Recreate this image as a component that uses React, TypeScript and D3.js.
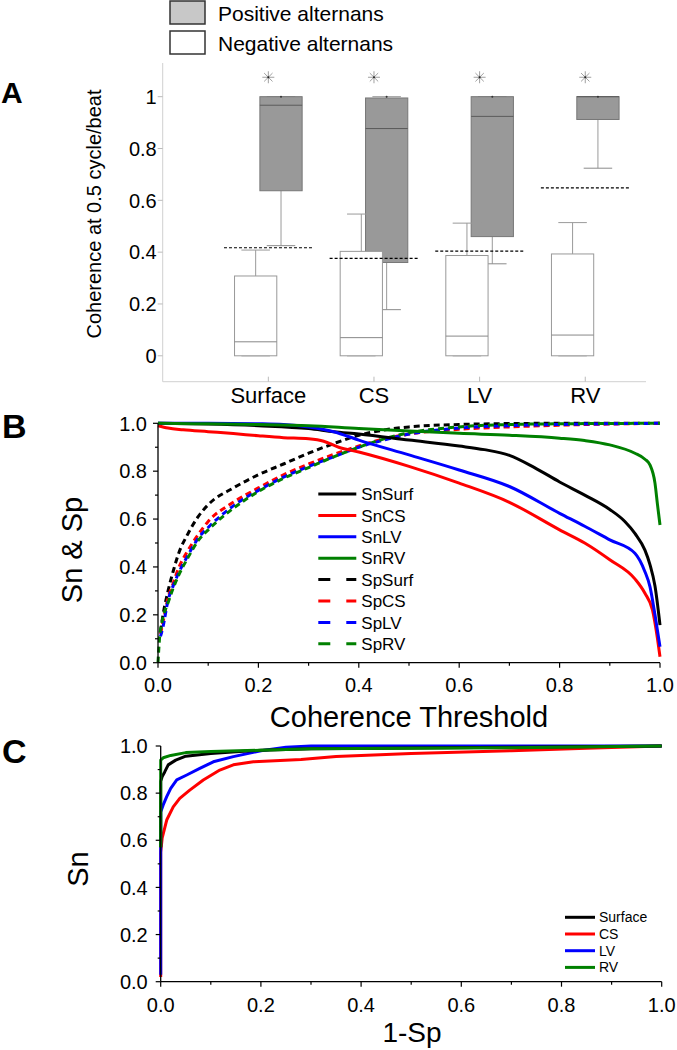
import React from "react";
import * as d3 from "d3";

// ---- panel A: box plot values (coherence at 0.5 cycle/beat) ----
const categories = ["Surface", "CS", "LV", "RV"];
// negative alternans (white boxes)
const negLow = [0, 0, 0, 0];
const negQ1 = [0, 0, 0, 0];
const negMedian = [0.054, 0.07, 0.076, 0.08];
const negQ3 = [0.308, 0.403, 0.387, 0.393];
const negHigh = [0.408, 0.547, 0.512, 0.514];
// positive alternans (gray boxes)
const posLow = [0.425, 0.178, 0.355, 0.724];
const posQ1 = [0.637, 0.36, 0.46, 0.912];
const posMedian = [0.967, 0.877, 0.924, 1.0];
const posQ3 = [1.0, 0.995, 1.0, 1.0];
const posHigh = [1.0, 1.0, 1.0, 1.0];
// optimal thresholds (dashed)
const cutoffs = [0.417, 0.376, 0.404, 0.648];
const yTicksA = [0, 0.2, 0.4, 0.6, 0.8, 1];

// ---- panel B: Sn & Sp vs coherence threshold ----
const snSurfT = [0, 0.1, 0.2, 0.3, 0.35, 0.4, 0.5, 0.6, 0.65, 0.7, 0.75, 0.8, 0.85, 0.9, 0.93, 0.95, 0.97, 0.98, 0.99, 1.0];
const snSurfV = [1.0, 0.997, 0.99, 0.978, 0.965, 0.955, 0.93, 0.905, 0.89, 0.866, 0.815, 0.755, 0.7, 0.64, 0.59, 0.54, 0.47, 0.41, 0.32, 0.157];
const snCST = [0, 0.02, 0.05, 0.1, 0.15, 0.2, 0.25, 0.3, 0.33, 0.36, 0.4, 0.5, 0.6, 0.7, 0.8, 0.85, 0.9, 0.95, 0.97, 0.985, 0.995, 1.0];
const snCSV = [0.99, 0.98, 0.973, 0.965, 0.957, 0.948, 0.94, 0.935, 0.925, 0.9, 0.88, 0.82, 0.75, 0.67, 0.555, 0.5, 0.43, 0.35, 0.29, 0.22, 0.1, 0.025];
const snLVT = [0, 0.1, 0.2, 0.25, 0.3, 0.35, 0.4, 0.5, 0.6, 0.7, 0.8, 0.85, 0.9, 0.95, 0.97, 0.98, 0.99, 1.0];
const snLVV = [1.0, 1.0, 0.998, 0.995, 0.985, 0.965, 0.93, 0.868, 0.805, 0.736, 0.624, 0.57, 0.513, 0.457, 0.38, 0.318, 0.2, 0.067];
const snRVT = [0, 0.1, 0.2, 0.3, 0.4, 0.5, 0.6, 0.7, 0.8, 0.85, 0.9, 0.95, 0.97, 0.98, 0.99, 0.995, 1.0];
const snRVV = [1.0, 0.998, 0.995, 0.99, 0.978, 0.968, 0.958, 0.95, 0.938, 0.928, 0.91, 0.875, 0.85, 0.826, 0.75, 0.66, 0.575];
const spT = [0.005, 0.01, 0.02, 0.03, 0.04, 0.06, 0.08, 0.1, 0.15, 0.2, 0.25, 0.3, 0.35, 0.4, 0.45, 0.5, 0.6, 0.7, 0.8, 0.9, 1.0];
const spSurfV = [0.13, 0.2, 0.3, 0.38, 0.45, 0.54, 0.61, 0.66, 0.73, 0.785, 0.83, 0.875, 0.915, 0.95, 0.972, 0.985, 0.995, 0.999, 1, 1, 1];
const spCSV = [0.12, 0.17, 0.27, 0.33, 0.39, 0.47, 0.535, 0.59, 0.67, 0.73, 0.785, 0.83, 0.87, 0.905, 0.935, 0.955, 0.975, 0.985, 0.992, 0.997, 1.0];
const spLVV = [0.11, 0.15, 0.26, 0.32, 0.37, 0.45, 0.52, 0.565, 0.655, 0.72, 0.775, 0.82, 0.86, 0.9, 0.93, 0.955, 0.98, 0.99, 0.995, 0.998, 1.0];
const spRVT = [0, 0.003, 0.008, 0.02, 0.03, 0.04, 0.06, 0.08, 0.1, 0.15, 0.2, 0.25, 0.3, 0.35, 0.4, 0.45, 0.5, 0.6, 0.7, 0.8, 1.0];
const spRVV = [0.0, 0.1, 0.17, 0.25, 0.31, 0.36, 0.44, 0.51, 0.555, 0.645, 0.715, 0.77, 0.815, 0.86, 0.9, 0.935, 0.96, 0.985, 0.995, 0.998, 1.0];

// ---- panel C: ROC (Sn vs 1-Sp) ----
const rocSurfX = [0, 0, 0.003, 0.008, 0.015, 0.03, 0.05, 0.1, 0.15, 0.2, 0.3, 0.5, 0.7, 1];
const rocSurfY = [0.57, 0.85, 0.87, 0.89, 0.92, 0.94, 0.957, 0.968, 0.976, 0.982, 0.988, 0.992, 0.995, 1];
const rocCSX = [0, 0, 0.003, 0.012, 0.025, 0.038, 0.058, 0.085, 0.118, 0.145, 0.185, 0.28, 0.35, 0.5, 0.7, 0.85, 1];
const rocCSY = [0.02, 0.55, 0.61, 0.686, 0.742, 0.778, 0.813, 0.856, 0.898, 0.92, 0.933, 0.943, 0.955, 0.968, 0.98, 0.99, 1];
const rocLVX = [0, 0, 0.005, 0.012, 0.02, 0.032, 0.052, 0.078, 0.105, 0.145, 0.2, 0.25, 0.3, 1];
const rocLVY = [0.03, 0.72, 0.75, 0.785, 0.82, 0.856, 0.877, 0.905, 0.933, 0.955, 0.98, 0.995, 1, 1];
const rocRVX = [0, 0, 0.005, 0.02, 0.05, 0.1, 0.2, 0.3, 0.5, 0.7, 1];
const rocRVY = [0.57, 0.94, 0.95, 0.96, 0.972, 0.977, 0.982, 0.988, 0.99, 0.993, 1];

const seriesColors = ["#000000", "#ff0000", "#0000ff", "#008000"];
const bNames = ["SnSurf", "SnCS", "SnLV", "SnRV", "SpSurf", "SpCS", "SpLV", "SpRV"];
const cNames = ["Surface", "CS", "LV", "RV"];

const font = "'Liberation Sans', Arial, Helvetica, sans-serif";
const zip = (a: number[], b: number[]) => a.map((v, i) => [v, b[i]] as [number, number]);

function BoxPanel() {
  const x = d3.scaleLinear().domain([0, 4.575]).range([162.7, 646]);
  const y = d3.scaleLinear().domain([-0.1, 1.13]).range([381.7, 63]);
  const step = x(1) - x(0);
  const halfBox = 0.2 * step;
  const off = 0.12 * step;
  const cap = 0.135 * step;

  const box = (cx: number, lo: number, q1: number, med: number, q3: number, hi: number, filled: boolean, key: string) => (
    <g key={key}>
      <line x1={cx} x2={cx} y1={y(q3)} y2={y(hi)} stroke="#9a9a9a" />
      <line x1={cx} x2={cx} y1={y(q1)} y2={y(lo)} stroke="#9a9a9a" />
      <line x1={cx - cap} x2={cx + cap} y1={y(hi)} y2={y(hi)} stroke="#9a9a9a" />
      <line x1={cx - cap} x2={cx + cap} y1={y(lo)} y2={y(lo)} stroke="#8a8a8a" />
      <rect x={cx - halfBox} y={y(q3)} width={2 * halfBox} height={y(q1) - y(q3)}
        fill={filled ? "#999999" : "#ffffff"} stroke={filled ? "#777777" : "#999999"} />
      <line x1={cx - halfBox} x2={cx + halfBox} y1={y(med)} y2={y(med)} stroke={filled ? "#5a5a5a" : "#888888"} />
      {filled && <circle cx={cx} cy={y(hi)} r={1} fill="#333" />}
    </g>
  );

  return (
    <g>
      {/* legend */}
      <rect x={170} y={1} width={35} height={23} fill="#c8c8c8" stroke="#333" strokeWidth={1.5} />
      <rect x={170} y={31} width={35} height={23} fill="#fff" stroke="#333" strokeWidth={1.5} />
      <text x={218} y={20.5} fontSize={21} fontFamily={font}>Positive alternans</text>
      <text x={218} y={51} fontSize={21} fontFamily={font}>Negative alternans</text>

      <text x={1} y={103} fontSize={30} fontWeight="bold" fontFamily={font}>A</text>

      {/* axes */}
      <line x1={x(0)} x2={x(0)} y1={y.range()[1]} y2={y.range()[0]} stroke="#d0d0d0" />
      <line x1={x(0)} x2={x.range()[1]} y1={y.range()[0]} y2={y.range()[0]} stroke="#d0d0d0" />
      {yTicksA.map(t => (
        <g key={t}>
          <line x1={x(0) - 5} x2={x(0)} y1={y(t)} y2={y(t)} stroke="#bbbbbb" />
          <text x={x(0) - 6} y={y(t)} dy="0.36em" textAnchor="end" fontSize={20} fontFamily={font}>{t === 0 || t === 1 ? String(t) : t.toFixed(1)}</text>
        </g>
      ))}
      {categories.map((c, i) => (
        <g key={c}>
          <line x1={x(i + 1)} x2={x(i + 1)} y1={y.range()[0]} y2={y.range()[0] - 5} stroke="#bbbbbb" />
          <text x={x(i + 1)} y={403} textAnchor="middle" fontSize={22} fontFamily={font}>{c}</text>
        </g>
      ))}
      <text transform={`translate(101,214) rotate(-90)`} textAnchor="middle" fontSize={20} fontFamily={font}>Coherence at 0.5 cycle/beat</text>

      {/* boxes: positive first, negative on top */}
      {categories.map((c, i) => box(x(i + 1) + off, posLow[i], posQ1[i], posMedian[i], posQ3[i], posHigh[i], true, "p" + c))}
      {categories.map((c, i) => box(x(i + 1) - off, negLow[i], negQ1[i], negMedian[i], negQ3[i], negHigh[i], false, "n" + c))}

      {cutoffs.map((v, i) => (
        <line key={i} x1={x(i + 1 - 0.42)} x2={x(i + 1 + 0.42)} y1={y(v)} y2={y(v)} stroke="#000" strokeWidth={1.2} strokeDasharray="3,2" />
      ))}

      {/* significance asterisks */}
      {categories.map((c, i) => {
        const cx = x(i + 1), cy = y(1.075), r = 6;
        return (
          <g key={"s" + c} stroke="#a0a0a0" strokeWidth={1}>
            <line x1={cx - r} x2={cx + r} y1={cy} y2={cy} />
            <line x1={cx} x2={cx} y1={cy - r} y2={cy + r} />
            <line x1={cx - r * 0.7} x2={cx + r * 0.7} y1={cy - r * 0.7} y2={cy + r * 0.7} />
            <line x1={cx - r * 0.7} x2={cx + r * 0.7} y1={cy + r * 0.7} y2={cy - r * 0.7} />
            <circle cx={cx} cy={cy} r={1} fill="#222" stroke="none" />
          </g>
        );
      })}
    </g>
  );
}

function Axes({ x, y, labelGapY, labelDyX }: { x: d3.ScaleLinear<number, number>; y: d3.ScaleLinear<number, number>; labelGapY: number; labelDyX: number }) {
  const [x0, x1] = x.range();
  const [y0, y1] = y.range();
  const ticks = x.ticks(10);
  return (
    <g fontFamily={font}>
      <line x1={x0} x2={x1} y1={y0} y2={y0} stroke="#000" strokeWidth={1.3} />
      <line x1={x0} x2={x0} y1={y0} y2={y1} stroke="#000" strokeWidth={1.3} />
      {ticks.map((t, i) => (
        <g key={"x" + t}>
          <line x1={x(t)} x2={x(t)} y1={y0} y2={y0 + (i % 2 === 0 ? 5 : 3)} stroke="#000" strokeWidth={1.2} />
          {i % 2 === 0 && <text x={x(t)} y={y0 + labelDyX} textAnchor="middle" fontSize={20}>{d3.format(".1f")(t)}</text>}
        </g>
      ))}
      {y.ticks(10).map((t, i) => (
        <g key={"y" + t}>
          <line x1={x0 - (i % 2 === 0 ? 5 : 3)} x2={x0} y1={y(t)} y2={y(t)} stroke="#000" strokeWidth={1.2} />
          {i % 2 === 0 && <text x={x0 - labelGapY} y={y(t)} dy="0.36em" textAnchor="end" fontSize={20}>{d3.format(".1f")(t)}</text>}
        </g>
      ))}
    </g>
  );
}

function SnSpPanel() {
  const x = d3.scaleLinear().domain([0, 1]).range([158, 660]);
  const y = d3.scaleLinear().domain([0, 1]).range([662.7, 423.3]);
  const line = d3.line<[number, number]>().x(d => x(d[0])).y(d => y(d[1])).curve(d3.curveMonotoneX);
  const sn = [zip(snSurfT, snSurfV), zip(snCST, snCSV), zip(snLVT, snLVV), zip(snRVT, snRVV)];
  const sp = [zip(spT, spSurfV), zip(spT, spCSV), zip(spT, spLVV), zip(spRVT, spRVV)];
  const legX = 318.3, legY = 494, legStep = 21.4;
  return (
    <g>
      <text x={2} y={438} fontSize={34} fontWeight="bold" fontFamily={font}>B</text>
      {sp.map((d, i) => (
        <path key={"sp" + i} d={line(d) || ""} fill="none" stroke={seriesColors[i]} strokeWidth={3} strokeDasharray="6,4" />
      ))}
      {sn.map((d, i) => (
        <path key={"sn" + i} d={line(d) || ""} fill="none" stroke={seriesColors[i]} strokeWidth={3} />
      ))}
      <Axes x={x} y={y} labelGapY={11} labelDyX={29} />
      <text transform="translate(82,550) rotate(-90)" textAnchor="middle" fontSize={29} fontFamily={font}>Sn &amp; Sp</text>
      <text x={409} y={726.5} textAnchor="middle" fontSize={29} fontFamily={font}>Coherence Threshold</text>
      {bNames.map((n, i) => (
        <g key={n}>
          <line x1={legX} x2={legX + 38} y1={legY + i * legStep} y2={legY + i * legStep}
            stroke={seriesColors[i % 4]} strokeWidth={3} strokeDasharray={i >= 4 ? "12,16" : undefined} />
          <text x={legX + 43} y={legY + i * legStep} dy="0.36em" fontSize={17} fontFamily={font}>{n}</text>
        </g>
      ))}
    </g>
  );
}

function RocPanel() {
  const x = d3.scaleLinear().domain([0, 1]).range([160.7, 661.7]);
  const y = d3.scaleLinear().domain([0, 1]).range([981.7, 746]);
  const line = d3.line<[number, number]>().x(d => x(d[0])).y(d => y(d[1]));
  const roc = [zip(rocSurfX, rocSurfY), zip(rocCSX, rocCSY), zip(rocLVX, rocLVY), zip(rocRVX, rocRVY)];
  const legX = 565, legY = 917.3, legStep = 16.7;
  return (
    <g>
      <text x={2} y={763} fontSize={34} fontWeight="bold" fontFamily={font}>C</text>
      {[1, 2, 0, 3].map(i => (
        <path key={"r" + i} d={line(roc[i]) || ""} fill="none" stroke={seriesColors[i]} strokeWidth={3} strokeLinejoin="round" />
      ))}
      <Axes x={x} y={y} labelGapY={13} labelDyX={30} />
      <text transform="translate(88,869) rotate(-90)" textAnchor="middle" fontSize={29} fontFamily={font}>Sn</text>
      <text x={412} y={1042} textAnchor="middle" fontSize={28} fontFamily={font}>1-Sp</text>
      {cNames.map((n, i) => (
        <g key={n}>
          <line x1={legX} x2={legX + 30} y1={legY + i * legStep} y2={legY + i * legStep} stroke={seriesColors[i]} strokeWidth={3} />
          <text x={legX + 34} y={legY + i * legStep} dy="0.36em" fontSize={14} fontFamily={font}>{n}</text>
        </g>
      ))}
    </g>
  );
}

export default function App() {
  return (
    <svg width={677} height={1050} viewBox="0 0 677 1050"
      style={{ position: "absolute", left: 0, top: 0, background: "#fff" }}>
      <rect width={677} height={1050} fill="#fff" />
      <BoxPanel />
      <SnSpPanel />
      <RocPanel />
    </svg>
  );
}
